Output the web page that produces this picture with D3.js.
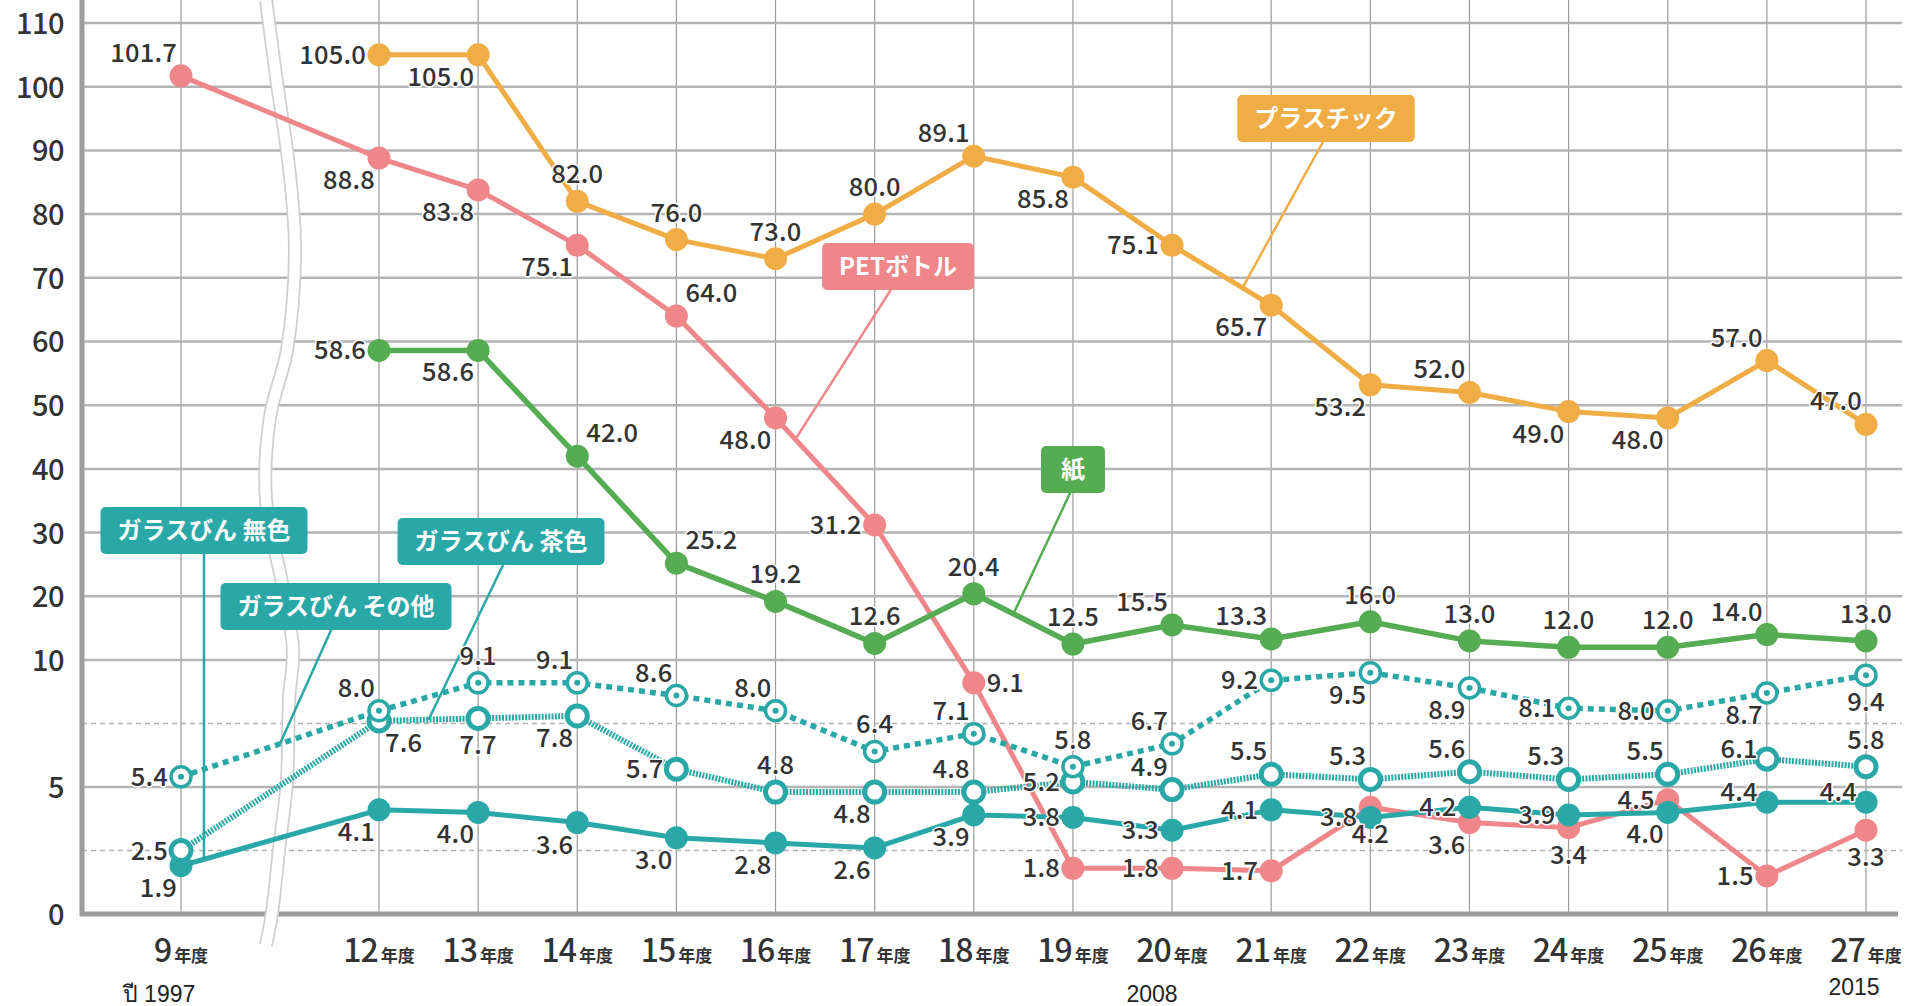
<!DOCTYPE html>
<html><head><meta charset="utf-8">
<script src="https://cdn.jsdelivr.net/npm/d3@7"></script>
<style>
html,body{margin:0;padding:0;background:#fff;}
svg{display:block;}
</style></head><body>
<svg id="chart" width="1910" height="1006"></svg>
<script>
// ---------- data ----------
const years = [9,12,13,14,15,16,17,18,19,20,21,22,23,24,25,26,27];
const yearUnit = "年度";
const yTicks = [0,5,10,20,30,40,50,60,70,80,90,100,110];
const yDashed = [2.5,7.5];
const westernYears = [{fy:9, text:"ปี 1997"},{fy:20, text:"2008"},{fy:27, text:"2015"}];

const petValues        = [101.7,88.8,83.8,75.1,64.0,48.0,31.2,9.1,1.8,1.8,1.7,4.2,3.6,3.4,4.5,1.5,3.3];
const plasticValues    = [null,105.0,105.0,82.0,76.0,73.0,80.0,89.1,85.8,75.1,65.7,53.2,52.0,49.0,48.0,57.0,47.0];
const paperValues      = [null,58.6,58.6,42.0,25.2,19.2,12.6,20.4,12.5,15.5,13.3,16.0,13.0,12.0,12.0,14.0,13.0];
const glassClearValues = [1.9,4.1,4.0,3.6,3.0,2.8,2.6,3.9,3.8,3.3,4.1,3.8,4.2,3.9,4.0,4.4,4.4];
const glassBrownValues = [2.5,7.6,7.7,7.8,5.7,4.8,4.8,4.8,5.2,4.9,5.5,5.3,5.6,5.3,5.5,6.1,5.8];
const glassOtherValues = [5.4,8.0,9.1,9.1,8.6,8.0,6.4,7.1,5.8,6.7,9.2,9.5,8.9,8.1,8.0,8.7,9.4];

// label placement codes (relative to the point)
const petPlace     = ["al","bl","bl","bl","ar","bl","l","r","l","l","l","b","bl","b","l","l","b"];
const plasticPlace = [null,"l","bl","a","a","a","a","al","bl","l","bl","bl","al","bl","bl","al","al"];
const paperPlace   = [null,"l","bl","ar","ar","a","a","a","a","al","al","a","a","a","a","al","a"];
const clearPlace   = ["bl","bl","bl","bl","bl","bl","bl","bl","l","l","l","l","l","l","bl","ml","ml"];
const brownPlace   = ["l","br","b","bl","l","a","bl","al","l","al","al","al","al","al","al","ml","a"];
const otherPlace   = ["l","al","a","al","al","al","a","al","a","al","l","bl","bl","l","l","bl","b"];

const seriesNames = ["PETボトル","プラスチック","紙","ガラスびん 無色","ガラスびん 茶色","ガラスびん その他"];

// ---------- setup ----------
const svg = d3.select("#chart");
const x = d3.scaleLinear().domain([9,12,27]).range([181,379,1866]);
const y = d3.scaleLinear().domain([0,10,110]).range([914,660,23]);
const plotLeft = 82, plotRight = 1902, plotBottom = y(0);

const C = {pink:"#ee868a", orange:"#f0ad45", green:"#55ac52", teal:"#2aa8a7", grid:"#b4b4b4", vgrid:"#9a9a9a", axis:"#9c9c9c", text:"#333"};
const numFont = "'Noto Sans CJK JP','Noto Sans',sans-serif";

// vertical grid
svg.append("g").selectAll("line").data(years).join("line")
  .attr("x1", d=>x(d)).attr("x2", d=>x(d)).attr("y1", 0).attr("y2", plotBottom)
  .attr("stroke", C.vgrid).attr("stroke-width", 1.2);

// horizontal grid
svg.append("g").selectAll("line").data(yTicks.filter(d=>d>0)).join("line")
  .attr("x1", plotLeft).attr("x2", plotRight).attr("y1", d=>y(d)).attr("y2", d=>y(d))
  .attr("stroke", C.grid).attr("stroke-width", 2.5);
svg.append("g").selectAll("line").data(yDashed).join("line")
  .attr("x1", plotLeft).attr("x2", plotRight).attr("y1", d=>y(d)).attr("y2", d=>y(d))
  .attr("stroke", "#b0b0b0").attr("stroke-width", 1.5).attr("stroke-dasharray", "5,4");

// axes lines
svg.append("line").attr("x1", plotLeft).attr("x2", plotLeft).attr("y1", 0).attr("y2", plotBottom+2)
  .attr("stroke", C.axis).attr("stroke-width", 5);
svg.append("line").attr("x1", plotLeft-2).attr("x2", 1898).attr("y1", plotBottom).attr("y2", plotBottom)
  .attr("stroke", C.axis).attr("stroke-width", 5);

// axis break (wavy band between fiscal years 9 and 12)
const xm = (x(9)+x(12))/2;
const wave = [[0,-14],[83,-3],[167,9],[250,15],[350,7],[417,-10],[500,-14],[583,2],[650,13],[700,9],[780,7],[850,-1],[913,-8],[945,-14]];
const waveLine = d3.line().x(d=>xm+d[1]).y(d=>d[0]).curve(d3.curveCatmullRom);
svg.append("path").attr("d", waveLine(wave)).attr("fill","none").attr("stroke","#cfcfcf").attr("stroke-width",14);
svg.append("path").attr("d", waveLine(wave)).attr("fill","none").attr("stroke","#fff").attr("stroke-width",10.5);

// ---------- series ----------
function pts(vals){ return years.map((yr,i)=>({yr, v:vals[i], i})).filter(d=>d.v!=null); }
const line = d3.line().x(d=>x(d.yr)).y(d=>y(d.v));

const series = [
  {name:seriesNames[0], vals:petValues, place:petPlace, color:C.pink, width:5, dash:null, marker:"fill"},
  {name:seriesNames[1], vals:plasticValues, place:plasticPlace, color:C.orange, width:5, dash:null, marker:"fill"},
  {name:seriesNames[2], vals:paperValues, place:paperPlace, color:C.green, width:5.5, dash:null, marker:"fill"},
  {name:seriesNames[3], vals:glassClearValues, place:clearPlace, color:C.teal, width:5, dash:null, marker:"fill"},
  {name:seriesNames[4], vals:glassBrownValues, place:brownPlace, color:C.teal, width:6, dash:"2,1.3", marker:"ring"},
  {name:seriesNames[5], vals:glassOtherValues, place:otherPlace, color:C.teal, width:5.5, dash:"6,5", marker:"ringdot"},
];

const gSeries = svg.append("g");
series.forEach(s=>{
  const p = pts(s.vals);
  const g = gSeries.append("g");
  g.append("path").attr("d", line(p)).attr("fill","none").attr("stroke", s.color)
    .attr("stroke-width", s.width).attr("stroke-linejoin","round")
    .attr("stroke-dasharray", s.dash);
  const m = g.selectAll("g.m").data(p).join("g").attr("transform", d=>`translate(${x(d.yr)},${y(d.v)})`);
  if (s.marker==="fill") {
    m.append("circle").attr("r", 11.5).attr("fill", s.color);
  } else {
    m.append("circle").attr("r", 10).attr("fill","#fff").attr("stroke", s.color).attr("stroke-width", s.marker==="ring"?5:3.5);
    if (s.marker==="ringdot") m.append("circle").attr("r", 3).attr("fill", s.color);
  }
});

// ---------- callout labels ----------
function along(vals, i0, t){
  const a = {x:x(years[i0]), y:y(vals[i0])}, b = {x:x(years[i0+1]), y:y(vals[i0+1])};
  return [a.x+(b.x-a.x)*t, a.y+(b.y-a.y)*t];
}
const callouts = [
  {text:seriesNames[1], color:C.orange, cx:1326, top:95, end:along(plasticValues, 9, 0.71), from:1324},
  {text:seriesNames[0], color:C.pink, cx:898, top:243, end:along(petValues, 5, 0.2), from:892},
  {text:seriesNames[2], color:C.green, cx:1073, top:446, end:along(paperValues, 7, 0.4), from:1071},
  {text:seriesNames[3], color:C.teal, cx:204, top:507, end:along(glassClearValues, 0, 0.116), from:204},
  {text:seriesNames[5], color:C.teal, cx:336, top:583, end:along(glassOtherValues, 0, 0.5), from:332},
  {text:seriesNames[4], color:C.teal, cx:501, top:518, end:along(glassBrownValues, 1, 0.5), from:504},
];
const gC = svg.append("g");
callouts.forEach(c=>{
  const g = gC.append("g");
  const boxH = 47;
  g.append("line").attr("x1", c.from).attr("y1", c.top+boxH-2).attr("x2", c.end[0]).attr("y2", c.end[1])
    .attr("stroke", c.color).attr("stroke-width", 2.5);
  const t = g.append("text").attr("x", c.cx).attr("y", c.top+boxH/2+8.5)
    .attr("text-anchor","middle").attr("font-family", numFont).attr("font-weight",700)
    .attr("font-size", 24).attr("fill","#fff").text(c.text);
  const bb = t.node().getBBox();
  const padX = c.text.length===1 ? 20 : 17;
  g.insert("rect","text").attr("x", bb.x-padX).attr("y", c.top).attr("width", bb.width+2*padX).attr("height", boxH)
    .attr("rx", 5).attr("fill", c.color);
});

// ---------- data labels ----------
const place = {
  l:{anchor:"end", dx:-13, dy:9},
  ml:{anchor:"end", dx:-9, dy:-1},
  r:{anchor:"start", dx:13, dy:9},
  a:{anchor:"middle", dx:0, dy:-18},
  b:{anchor:"middle", dx:0, dy:36},
  al:{anchor:"end", dx:-4, dy:-14},
  ar:{anchor:"start", dx:9, dy:-14},
  bl:{anchor:"end", dx:-4, dy:31},
  br:{anchor:"start", dx:6, dy:31},
};
const gL = svg.append("g");
series.forEach(s=>{
  pts(s.vals).forEach(d=>{
    const pl = place[s.place[d.i]];
    gL.append("text").attr("x", x(d.yr)+pl.dx).attr("y", y(d.v)+pl.dy)
      .attr("text-anchor", pl.anchor).attr("font-family", numFont).attr("font-weight", 500)
      .attr("font-size", 25.5).attr("fill", C.text).attr("letter-spacing", 0.2)
      .attr("stroke","#fff").attr("stroke-width",3).attr("paint-order","stroke").attr("stroke-linejoin","round")
      .text(d.v.toFixed(1));
  });
});

// ---------- y axis labels ----------
const yAxis = d3.axisLeft(y).tickValues(yTicks).tickSize(0).tickPadding(0).tickFormat(d3.format("d"));
const gy = svg.append("g").attr("transform", `translate(64,0)`).call(yAxis);
gy.select(".domain").remove();
gy.selectAll("text").attr("font-family", numFont).attr("font-weight", 500).attr("font-size", 29)
  .attr("fill", C.text).attr("dy", "0.36em").attr("letter-spacing", -0.5);

// ---------- x axis labels ----------
const xl = svg.append("g").selectAll("text").data(years).join("text")
  .attr("x", d=>x(d)).attr("y", 962).attr("text-anchor","middle")
  .attr("font-family", numFont).attr("font-weight", 500).attr("fill", C.text);
xl.append("tspan").attr("font-size", 32).attr("letter-spacing", -1).text(d=>d);
xl.append("tspan").attr("font-size", 17).attr("font-weight", 700).attr("dx", 3).text(yearUnit);

svg.append("g").selectAll("text").data(westernYears).join("text")
  .attr("x", d=> d.fy===9 ? x(d.fy)-22 : d.fy===27 ? x(d.fy)-12 : x(d.fy)-20)
  .attr("y", d=> d.fy===27 ? 995 : 1002)
  .attr("text-anchor","middle").attr("font-family","'Liberation Sans','Noto Sans','DejaVu Sans',sans-serif")
  .attr("font-size", 23).attr("fill","#222").text(d=>d.text);
</script>
</body></html>
